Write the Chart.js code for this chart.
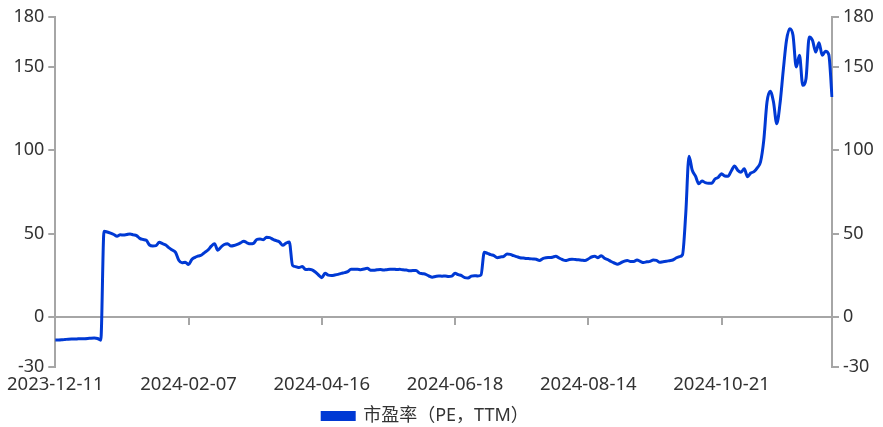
<!DOCTYPE html>
<html>
<head>
<meta charset="utf-8">
<script src="https://cdn.jsdelivr.net/npm/chart.js@4.4.1/dist/chart.umd.min.js"></script>
<style>
    body { margin: 0; background: #fff; }
</style>
</head>
<body>
<canvas id="myChart" width="883" height="427"></canvas>
<script>
// trading calendar (SSE), first and last day of the series
const startDate = "2023-12-11";
const endDate = "2024-12-06";
const closedDays = [
    "2024-01-01",
    "2024-02-09", "2024-02-12", "2024-02-13", "2024-02-14", "2024-02-15", "2024-02-16",
    "2024-04-04", "2024-04-05",
    "2024-05-01", "2024-05-02", "2024-05-03",
    "2024-06-10",
    "2024-09-16", "2024-09-17",
    "2024-10-01", "2024-10-02", "2024-10-03", "2024-10-04", "2024-10-07"
];

const tickLabels = ["2023-12-11", "2024-02-07", "2024-04-16", "2024-06-18", "2024-08-14", "2024-10-21"];
const yTicks = [-30, 0, 50, 100, 150, 180];
const seriesName = "市盈率（PE，TTM）";

const peValues = [
    -13.8, -13.8, -13.7, -13.5, -13.3, -13.2, -13.2, -13.1, -13.0, -13.0,
    -12.9, -12.7, -12.6, -12.9, -13.9, 51.5, 51.0, 50.3, 49.5, 48.5,
    49.3, 49.2, 49.5, 49.8, 49.3, 48.8, 47.2, 46.5, 46.0, 43.2,
    42.6, 42.8, 44.8, 44.0, 43.2, 41.5, 40.2, 38.8, 34.0, 32.5,
    32.8, 31.5, 34.5, 35.8, 36.6, 37.2, 38.8, 40.2, 42.5, 44.0,
    40.0, 42.0, 43.5, 44.0, 42.6, 42.9, 43.6, 44.5, 45.5, 44.5,
    43.9, 44.2, 46.5, 46.8, 46.4, 47.8, 47.6, 46.6, 45.8, 45.0,
    43.0, 44.3, 45.0, 31.0, 30.2, 29.7, 30.3, 28.5, 28.6, 28.3,
    27.0, 25.2, 23.6, 26.2, 25.1, 24.9, 25.2, 25.6, 26.2, 26.6,
    27.2, 28.7, 28.6, 28.7, 28.4, 28.8, 29.2, 28.1, 28.0, 28.3,
    28.5, 28.2, 28.4, 28.6, 28.7, 28.5, 28.6, 28.3, 28.2, 27.7,
    27.9, 27.9, 26.4, 26.0, 25.6, 24.6, 23.9, 24.3, 24.6, 24.5,
    24.6, 24.3, 24.5, 26.2, 25.4, 24.8, 23.6, 23.4, 24.5, 24.8,
    24.6, 25.2, 38.8, 38.2, 37.4, 36.8, 35.6, 36.0, 36.4, 37.8,
    37.6, 36.8, 36.2, 35.6, 35.4, 35.1, 35.0, 34.8, 34.6, 33.9,
    35.0, 35.5, 35.7, 35.9, 36.4, 35.4, 34.5, 33.9, 34.4, 34.7,
    34.5, 34.3, 34.1, 33.9, 34.8, 36.0, 36.4, 35.6, 36.8, 35.2,
    34.4, 33.3, 32.4, 31.7, 32.5, 33.4, 33.9, 33.3, 33.3, 34.2,
    33.4, 32.7, 33.1, 33.4, 34.2, 34.0, 32.8, 33.2, 33.4, 33.8,
    34.2, 35.4, 36.2, 37.4, 62.0, 96.5, 88.0, 84.5, 80.0, 81.6,
    80.6, 80.2, 80.3, 82.8, 83.8, 85.9, 84.6, 84.5, 87.6, 90.6,
    88.0, 86.9, 88.9, 84.2, 86.4, 87.2, 89.5, 93.0, 106.0, 129.0,
    135.5, 129.0, 116.0, 128.0, 148.0, 166.0, 173.0, 169.0, 150.0, 157.0,
    139.0, 143.0, 168.0, 166.0, 159.0, 164.5, 157.0, 159.5, 157.5, 132.0
];

function tradingDays(start, end, closed) {
    let days = [];
    let d = new Date(start + "T00:00:00Z");
    let last = new Date(end + "T00:00:00Z");
    while (d <= last) {
        let s = d.toISOString().slice(0, 10);
        let wd = d.getUTCDay();
        if (wd !== 0 && wd !== 6 && !closed.includes(s)) days.push(s);
        d.setUTCDate(d.getUTCDate() + 1);
    }
    return days;
}

document.addEventListener("DOMContentLoaded", function () {
    let ctx = document.getElementById("myChart").getContext("2d");
    let dates = tradingDays(startDate, endDate, closedDays);

    Chart.defaults.font.family = "'Noto Sans', 'Noto Sans CJK SC', sans-serif";
    Chart.defaults.color = "#333";

    const axisGray = "#a6a6a6";

    function keepLabelled(scale) {
        scale.ticks = scale.ticks.filter(t => tickLabels.includes(scale.getLabelForValue(t.value)));
    }

    function yAxis(side, width) {
        return {
            position: side,
            min: -30,
            max: 180,
            afterBuildTicks: scale => { scale.ticks = yTicks.map(v => ({ value: v })); },
            afterFit: scale => { scale.width = width; },
            grid: { drawOnChartArea: false, tickLength: 7, color: axisGray, lineWidth: 2 },
            border: { color: axisGray, width: 2 },
            ticks: { font: { size: 18 }, padding: 4, color: "#333" }
        };
    }

    // legend in the original sits a bit left of centre
    const legendShift = {
        id: "legendShift",
        afterLayout(chart) {
            chart.legend.left -= 16;
            chart.legend.right -= 16;
        }
    };

    new Chart(ctx, {
        type: "line",
        data: {
            labels: dates,
            datasets: [{
                label: seriesName,
                data: peValues,
                xAxisID: "x",
                yAxisID: "y",
                borderColor: "#0039d4",
                backgroundColor: "#0039d4",
                borderWidth: 3,
                pointRadius: 0,
                cubicInterpolationMode: "monotone"
            }]
        },
        options: {
            responsive: false,
            animation: false,
            layout: { padding: { top: 17, left: 0, right: 0, bottom: -8 } },
            plugins: {
                legend: {
                    position: "bottom",
                    labels: {
                        boxWidth: 32,
                        boxHeight: 7,
                        padding: 4,
                        color: "#333",
                        font: { size: 18 }
                    }
                },
                tooltip: { enabled: false }
            },
            scales: {
                x: {
                    type: "category",
                    position: "bottom",
                    afterBuildTicks: keepLabelled,
                    afterFit: scale => { scale.height = 36; },
                    grid: { display: false, drawTicks: false },
                    border: { display: false },
                    ticks: { autoSkip: false, maxRotation: 0, padding: 7, font: { size: 18.5 }, color: "#333" }
                },
                xz: {
                    type: "category",
                    axis: "x",
                    position: { y: 0 },
                    afterBuildTicks: keepLabelled,
                    grid: { drawOnChartArea: false, tickLength: 7, color: axisGray, lineWidth: 2 },
                    border: { display: true, color: axisGray, width: 2 },
                    ticks: { display: false }
                },
                y: yAxis("left", 55),
                y2: yAxis("right", 51)
            }
        },
        plugins: [legendShift]
    });
});
</script>
</body>
</html>
